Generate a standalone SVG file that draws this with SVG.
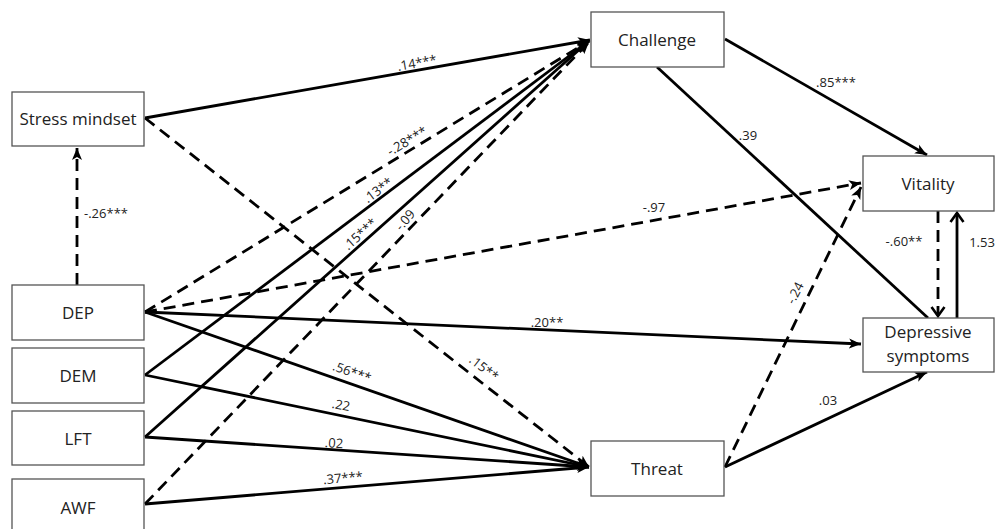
<svg xmlns="http://www.w3.org/2000/svg" width="995" height="529" viewBox="0 0 995 529">
<style>
.box{fill:#fff;stroke:#555;stroke-width:1.3}
.nt{font-family:"Open Sans","Liberation Sans",sans-serif;font-size:17px;fill:#222;text-anchor:middle}
.el{font-family:"Open Sans","Liberation Sans",sans-serif;font-size:13px;fill:#222;text-anchor:middle}
.s{stroke:#000;stroke-width:2.8;fill:none}
.d{stroke:#000;stroke-width:2.8;fill:none;stroke-dasharray:12 7}
</style>
<defs>
<marker id="ah" markerUnits="userSpaceOnUse" markerWidth="14" markerHeight="12" refX="12" refY="5" orient="auto" viewBox="0 0 14 10">
<path d="M0,0 L12,5 L0,10 L3,5 Z" fill="#000"/>
</marker>
<marker id="ch" markerUnits="userSpaceOnUse" markerWidth="16" markerHeight="16" refX="12" refY="8" orient="auto" viewBox="0 0 16 16">
<path d="M3,1.5 L12,8 L3,14.5" fill="none" stroke="#000" stroke-width="2.6"/>
</marker>
</defs>
<g id="connectors">
<line class="s" x1="145" y1="118" x2="590" y2="40" marker-end="url(#ah)"/>
<line class="d" x1="145" y1="118" x2="589" y2="467" marker-end="url(#ah)"/>
<line class="d" x1="77" y1="285" x2="77" y2="148" marker-end="url(#ah)"/>
<line class="d" x1="145" y1="312" x2="589" y2="41" marker-end="url(#ah)"/>
<line class="d" x1="145" y1="312" x2="861" y2="183" marker-end="url(#ah)"/>
<line class="s" x1="145" y1="312" x2="861" y2="344" marker-end="url(#ah)"/>
<line class="s" x1="145" y1="312" x2="589" y2="467" marker-end="url(#ah)"/>
<line class="s" x1="145" y1="375" x2="589" y2="41" marker-end="url(#ah)"/>
<line class="s" x1="145" y1="375" x2="589" y2="467" marker-end="url(#ah)"/>
<line class="s" x1="145" y1="437" x2="589" y2="41" marker-end="url(#ah)"/>
<line class="s" x1="145" y1="437" x2="589" y2="467" marker-end="url(#ah)"/>
<line class="d" x1="145" y1="504" x2="589" y2="42" marker-end="url(#ah)"/>
<line class="s" x1="145" y1="504" x2="589" y2="467" marker-end="url(#ah)"/>
<line class="s" x1="725" y1="39" x2="927" y2="155" marker-end="url(#ah)"/>
<line class="s" x1="657" y1="67" x2="928" y2="318"/>
<line class="d" x1="938" y1="211" x2="938" y2="316" marker-end="url(#ch)"/>
<line class="s" x1="957" y1="318" x2="957" y2="213" marker-end="url(#ch)"/>
<line class="d" x1="725" y1="467" x2="861" y2="187" marker-end="url(#ah)"/>
<line class="s" x1="725" y1="467" x2="927" y2="372" marker-end="url(#ah)"/>
</g>
<g id="edge-labels">
<text class="el" transform="translate(417,63) rotate(-10)" dy=".35em">.14***</text>
<text class="el" transform="translate(407,141) rotate(-31)" dy=".35em">-.28***</text>
<text class="el" transform="translate(378,190) rotate(-37)" dy=".35em">.13**</text>
<text class="el" transform="translate(360,234) rotate(-42)" dy=".35em">.15***</text>
<text class="el" transform="translate(405,220) rotate(-50)" dy=".35em">-.09</text>
<text class="el" x="106" y="218">-.26***</text>
<text class="el" x="654" y="212">-.97</text>
<text class="el" x="547" y="327">.20**</text>
<text class="el" transform="translate(352,372) rotate(19)" dy=".35em">.56***</text>
<text class="el" transform="translate(341,405) rotate(11)" dy=".35em">.22</text>
<text class="el" transform="translate(334,443) rotate(4)" dy=".35em">.02</text>
<text class="el" transform="translate(343,478) rotate(-5)" dy=".35em">.37***</text>
<text class="el" transform="translate(484,368) rotate(38)" dy=".35em">.15**</text>
<text class="el" x="836" y="87">.85***</text>
<text class="el" x="748" y="140">.39</text>
<text class="el" x="904" y="246">-.60**</text>
<text class="el" x="982" y="247">1.53</text>
<text class="el" transform="translate(795,293) rotate(-63)" dy=".35em">-.24</text>
<text class="el" x="828" y="405">.03</text>
</g>
<g id="stress-mindset"><rect class="box" x="12" y="92" width="132" height="54"/><text class="nt" x="78" y="125">Stress mindset</text></g>
<g id="dep"><rect class="box" x="12" y="285" width="132" height="55"/><text class="nt" x="78" y="318.5">DEP</text></g>
<g id="dem"><rect class="box" x="12" y="348" width="132" height="55"/><text class="nt" x="78" y="381.5">DEM</text></g>
<g id="lft"><rect class="box" x="12" y="411" width="132" height="54"/><text class="nt" x="78" y="444.5">LFT</text></g>
<g id="awf"><rect class="box" x="12" y="479" width="132" height="56"/><text class="nt" x="78" y="513.5">AWF</text></g>
<g id="challenge"><rect class="box" x="591" y="12" width="133" height="55"/><text class="nt" x="657" y="46">Challenge</text></g>
<g id="vitality"><rect class="box" x="863" y="156" width="131" height="55"/><text class="nt" x="928" y="189.5">Vitality</text></g>
<g id="depressive-symptoms"><rect class="box" x="863" y="318" width="131" height="54"/><text class="nt" x="928" y="338">Depressive</text><text class="nt" x="928" y="362">symptoms</text></g>
<g id="threat"><rect class="box" x="591" y="441" width="133" height="55"/><text class="nt" x="657" y="474.5">Threat</text></g>
</svg>
